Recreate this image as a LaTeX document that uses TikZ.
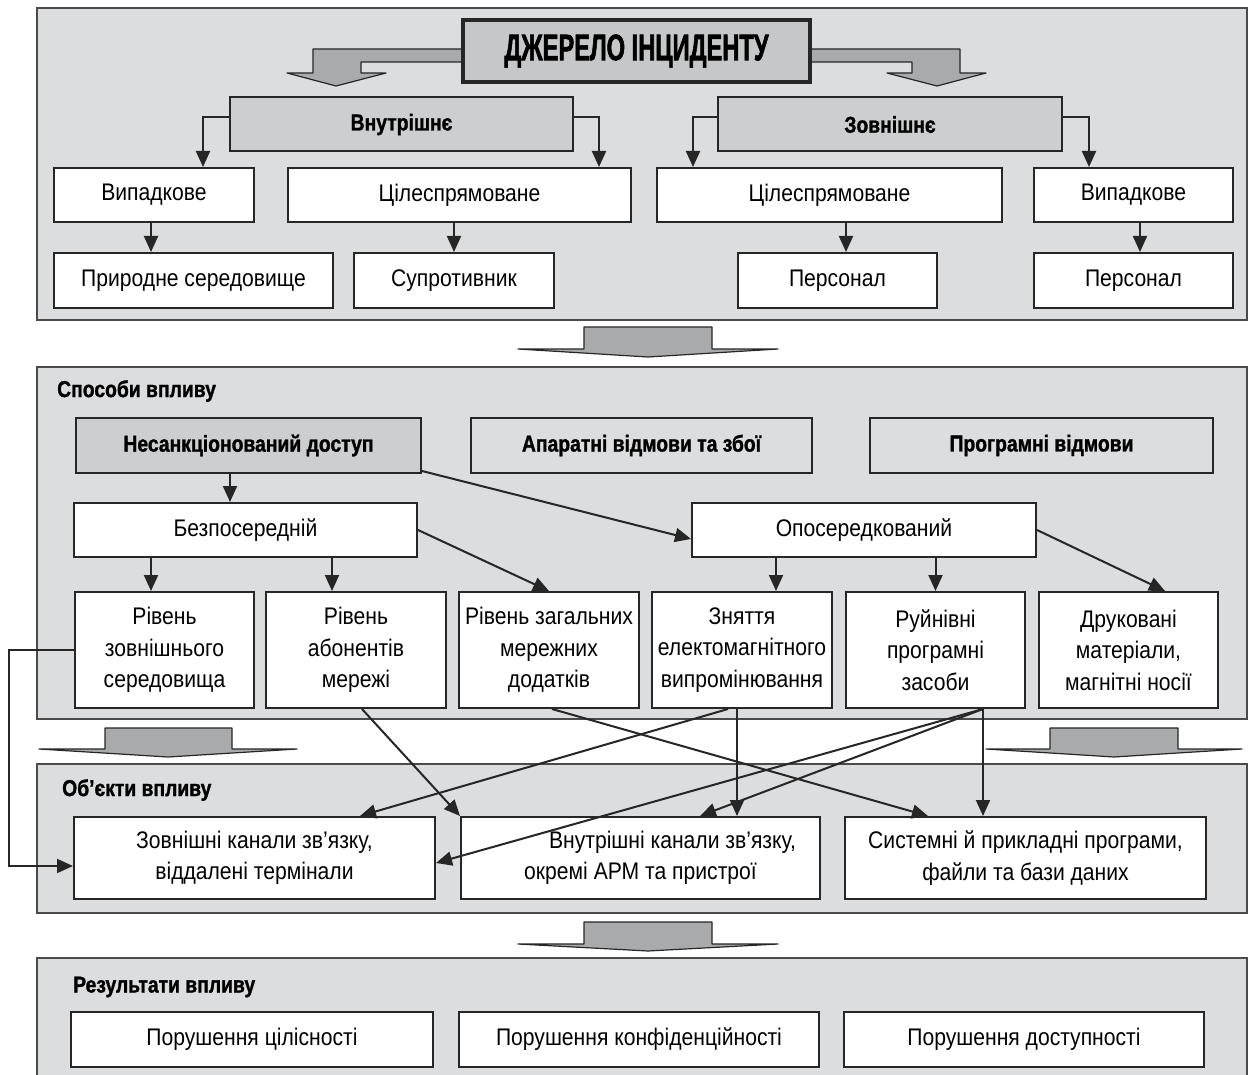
\documentclass[tikz,border=0pt]{standalone}
\usepackage{fontspec}
\setmainfont[FakeStretch=0.88]{Liberation Sans}
\newfontfamily\hdfont[FakeStretch=0.84,FakeBold=1.2]{Liberation Sans}
\newfontfamily\ttlfont[FakeStretch=0.64,FakeBold=1.5]{Liberation Sans}
\usetikzlibrary{arrows.meta}
\definecolor{pgrey}{HTML}{DCDDDF}
\definecolor{hgrey}{HTML}{CDCED0}
\definecolor{tgrey}{HTML}{C6C7C9}
\definecolor{agrey}{HTML}{A9AAAC}
\definecolor{bd}{HTML}{262626}
\definecolor{pbd}{HTML}{4A4A4A}
\tikzset{
  box/.style={draw=bd, line width=2pt, fill=white, inner sep=0pt, align=center,
    font=\normalfont\fontsize{24}{31.5}\selectfont},
  gbox/.style={box, fill=hgrey, font=\hdfont\bfseries\fontsize{23}{28}\selectfont},
  pbox/.style={box, fill=pgrey, font=\hdfont\bfseries\fontsize{23}{28}\selectfont},
  arr/.style={line width=2pt, draw=bd, -{Triangle[length=16pt,width=14pt]}},
  panel/.style={draw=pbd, line width=2pt, fill=pgrey},
  fat/.style={draw=bd, line width=1.2pt, fill=agrey, line join=round},
  lbl/.style={anchor=west, inner sep=0pt, font=\hdfont\bfseries\fontsize{23}{28}\selectfont},
}
\begin{document}
\begin{tikzpicture}[x=1pt,y=-1pt]
\useasboundingbox (0,0) rectangle (1250,1075);
\clip (0,0) rectangle (1250,1075);
% panels
\draw[panel] (37,8) rectangle (1247,320);
\draw[panel] (37,367) rectangle (1247,719);
\draw[panel] (37,764) rectangle (1247,913);
\draw[panel] (37,958) rectangle (1247,1095);

% bent arrows from title
\filldraw[fat] (470,62) -- (470,49) -- (313,49) -- (313,73) -- (287,73) -- (336,86) -- (386,73) -- (361,73) -- (361,62) -- cycle;
\filldraw[fat] (803,62) -- (803,49) -- (960,49) -- (960,73) -- (986,73) -- (937,86) -- (887,73) -- (912,73) -- (912,62) -- cycle;

% fat arrows between panels
\filldraw[fat] (584,349) -- (584,327) -- (712,327) -- (712,349) -- (778,349) -- (648,357) -- (518,349) -- cycle;
\filldraw[fat] (105,749) -- (105,728) -- (232,728) -- (232,749) -- (297,749) -- (168,757) -- (39,749) -- cycle;
\filldraw[fat] (1050,749) -- (1050,728) -- (1178,728) -- (1178,749) -- (1242,749) -- (1114,757) -- (986,749) -- cycle;
\filldraw[fat] (584,944) -- (584,922) -- (712,922) -- (712,944) -- (778,944) -- (648,951) -- (518,944) -- cycle;

% ---- panel 1
\node[draw=bd, line width=3.5pt, fill=tgrey, minimum width=347pt, minimum height=62pt, inner sep=0pt,
  font=\ttlfont\bfseries\fontsize{37}{40}\selectfont] (title) at (636.5,51) {ДЖЕРЕЛО ІНЦИДЕНТУ};
\node[gbox, minimum width=343pt, minimum height=54pt] (vn) at (401.5,124.5) {Внутрішнє};
\node[gbox, minimum width=344pt, minimum height=54pt] (zv) at (890,124.5) {Зовнішнє};
\node[box, minimum width=200pt, minimum height=54pt] (r2a) at (154,195) {Випадкове};
\node[box, minimum width=343pt, minimum height=54pt] (r2b) at (459.5,195) {Цілеспрямоване};
\node[box, minimum width=345pt, minimum height=54pt] (r2c) at (829.5,195) {Цілеспрямоване};
\node[box, minimum width=199pt, minimum height=54pt] (r2d) at (1133.5,195) {Випадкове};
\node[box, minimum width=279pt, minimum height=55pt] (r3a) at (193.5,280.5) {Природне середовище};
\node[box, minimum width=200pt, minimum height=55pt] (r3b) at (454,280.5) {Супротивник};
\node[box, minimum width=199pt, minimum height=55pt] (r3c) at (837.5,280.5) {Персонал};
\node[box, minimum width=199pt, minimum height=55pt] (r3d) at (1133.5,280.5) {Персонал};

\draw[arr] ([yshift=7pt]vn.west) -| ([xshift=49pt]r2a.north);
\draw[arr] ([yshift=7pt]vn.east) -| ([xshift=139.5pt]r2b.north);
\draw[arr] ([yshift=7pt]zv.west) -| ([xshift=-136.5pt]r2c.north);
\draw[arr] ([yshift=7pt]zv.east) -| ([xshift=-44.5pt]r2d.north);
\draw[arr] ([xshift=-42.5pt]r3a.north |- r2a.south) -- ([xshift=-42.5pt]r3a.north);
\draw[arr] (r3b.north |- r2b.south) -- (r3b.north);
\draw[arr] ([xshift=8.5pt]r3c.north |- r2c.south) -- ([xshift=8.5pt]r3c.north);
\draw[arr] ([xshift=6.5pt]r3d.north |- r2d.south) -- ([xshift=6.5pt]r3d.north);

% ---- panel 2
\node[lbl] (l2) at (57,391) {Способи впливу};
\node[gbox, minimum width=345pt, minimum height=55pt] (h1) at (248.5,445.5) {Несанкціонований доступ};
\node[pbox, minimum width=341pt, minimum height=55pt] (h2) at (641.5,445.5) {Апаратні відмови та збої};
\node[pbox, minimum width=343pt, minimum height=55pt] (h3) at (1041.5,445.5) {Програмні відмови};
\node[box, minimum width=343pt, minimum height=54pt] (b1) at (245.5,530) {Безпосередній};
\node[box, minimum width=344pt, minimum height=54pt] (b2) at (864,530) {Опосередкований};
\node[box, minimum width=179pt, minimum height=116pt] (c1) at (164.5,650) {Рівень\\зовнішнього\\середовища};
\node[box, minimum width=180pt, minimum height=116pt] (c2) at (356,650) {Рівень\\абонентів\\мережі};
\node[box, minimum width=180pt, minimum height=116pt] (c3) at (549,650) {Рівень загальних\\мережних\\додатків};
\node[box, minimum width=180pt, minimum height=116pt] (c4) at (742,650) {Зняття\\електомагнітного\\випромінювання};
\node[box, minimum width=179pt, minimum height=116pt] (c5) at (935.5,650) {Руйнівні\\програмні\\засоби};
\node[box, minimum width=179pt, minimum height=116pt] (c6) at (1128.5,650) {Друковані\\матеріали,\\магнітні носії};

\draw[arr] ([xshift=-15.5pt]b1.north |- h1.south) -- ([xshift=-15.5pt]b1.north);
\draw[arr] ([yshift=3pt]h1.south east) -- ([yshift=-9pt]b2.west);
\draw[arr] ([xshift=-13.5pt]c1.north |- b1.south) -- ([xshift=-13.5pt]c1.north);
\draw[arr] ([xshift=-24pt]c2.north |- b1.south) -- ([xshift=-24pt]c2.north);
\draw[arr] (b1.east) -- (c3.north);
\draw[arr] ([xshift=34pt]c4.north |- b2.south) -- ([xshift=34pt]c4.north);
\draw[arr] (c5.north |- b2.south) -- (c5.north);
\draw[arr] (b2.east) -- ([xshift=36.5pt]c6.north);

% ---- panel 3
\node[lbl] (l3) at (62,790) {Об’єкти впливу};
\node[box, minimum width=361pt, minimum height=82pt] (d1) at (254.5,858) {Зовнішні канали зв’язку,\\віддалені термінали};
\node[box, minimum width=359pt, minimum height=82pt] (d2) at (640.5,858) {\hspace*{64pt}Внутрішні канали зв’язку,\\окремі АРМ та пристрої};
\node[box, minimum width=361pt, minimum height=82pt] (d3) at (1025.5,858) {Системні й прикладні програми,\\файли та бази даних};

\draw[arr] (c1.west) -- ++(-65,0) |- ([yshift=-8pt]d1.west);
\draw[arr] ([xshift=6pt]c2.south) -- (d2.north west);
\draw[arr] ([xshift=3pt]c3.south) -- ([xshift=-97.5pt]d3.north);
\draw[arr] ([xshift=-14pt]c4.south) -- ([xshift=105.5pt]d1.north);
\draw[arr] ([xshift=-5pt]c4.south) -- ([xshift=-5pt]c4.south |- d2.north);
\draw[arr] ([xshift=47.5pt]c5.south) -- ([yshift=-5pt]d1.east);
\draw[arr] ([xshift=47.5pt]c5.south) -- ([xshift=59.5pt]d2.north);
\draw[arr] ([xshift=47.5pt]c5.south) -- ([xshift=47.5pt]c5.south |- d3.north);

% ---- panel 4
\node[lbl] (l4) at (73,987) {Результати впливу};
\node[box, minimum width=362pt, minimum height=55pt] (e1) at (252,1039.5) {Порушення цілісності};
\node[box, minimum width=360pt, minimum height=55pt] (e2) at (639,1039.5) {Порушення конфіденційності};
\node[box, minimum width=360pt, minimum height=55pt] (e3) at (1024,1039.5) {Порушення доступності};
\end{tikzpicture}
\end{document}
